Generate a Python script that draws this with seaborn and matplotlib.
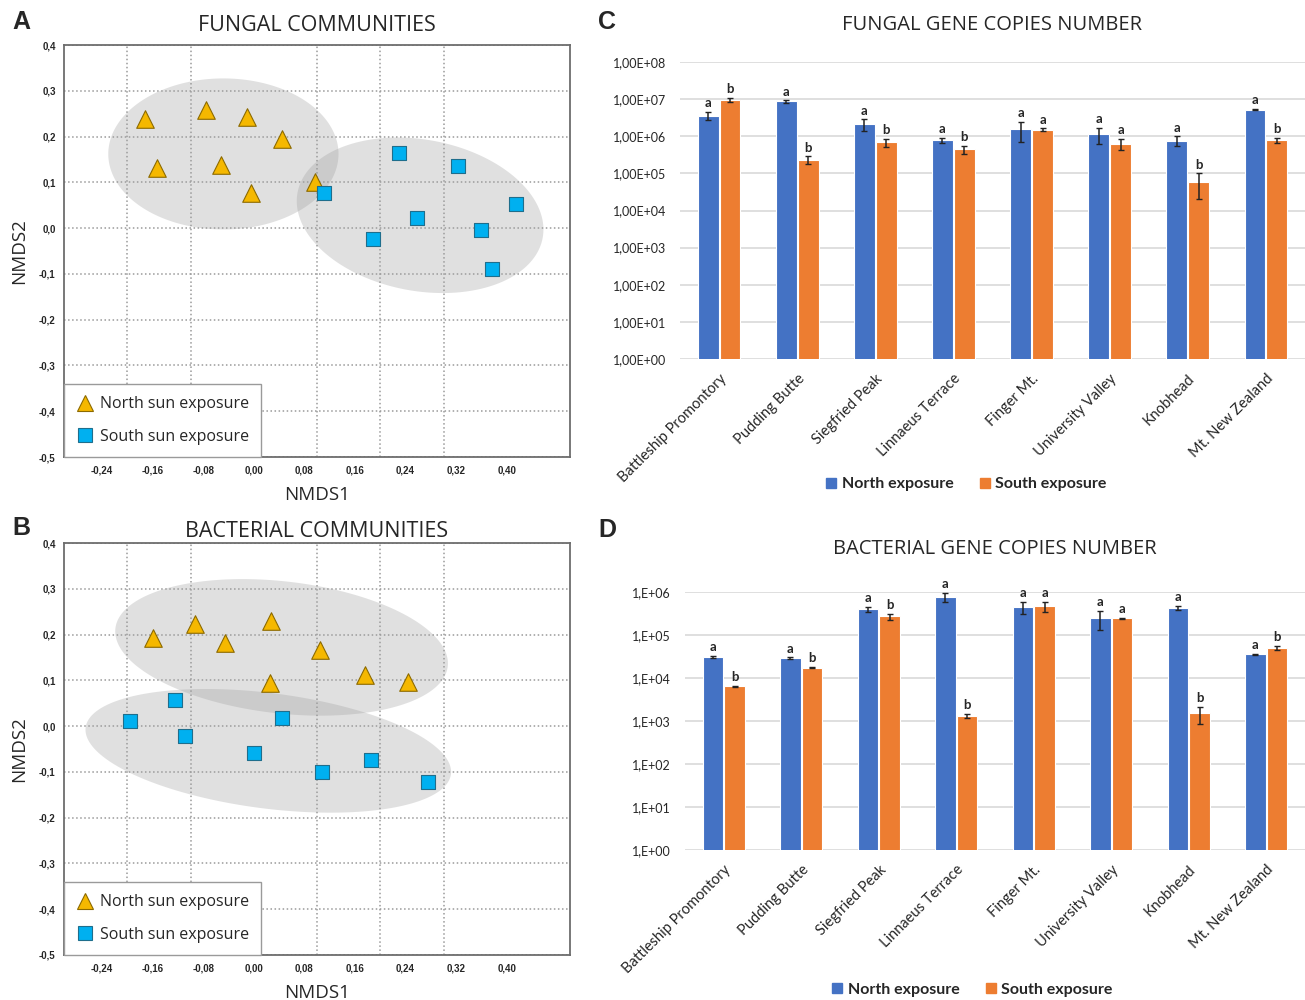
import numpy as np
import pandas as pd
import matplotlib
matplotlib.use('Agg')
import matplotlib.pyplot as plt
import seaborn as sns
from matplotlib.ticker import FuncFormatter, NullLocator
from matplotlib.lines import Line2D

# NMDS coordinates
fungal_north_x = [-0.172, -0.076, -0.010, 0.044, -0.153, -0.052, -0.004, 0.097]
fungal_north_y = [0.238, 0.257, 0.242, 0.195, 0.131, 0.138, 0.077, 0.100]
fungal_south_x = [0.229, 0.323, 0.111, 0.415, 0.258, 0.188, 0.359, 0.376]
fungal_south_y = [0.165, 0.136, 0.077, 0.053, 0.022, -0.024, -0.004, -0.089]

bact_north_x = [-0.160, -0.093, -0.045, 0.027, 0.105, 0.025, 0.176, 0.244]
bact_north_y = [0.192, 0.223, 0.181, 0.229, 0.167, 0.095, 0.112, 0.097]
bact_south_x = [-0.195, -0.125, -0.109, 0.001, 0.045, 0.108, 0.185, 0.275]
bact_south_y = [0.012, 0.057, -0.021, -0.059, 0.017, -0.101, -0.075, -0.123]

# confidence ellipses: centre x, centre y, conjugate half-axes (ux, uy), (vx, vy)
fungal_ell_north = (-0.048, 0.162, 0.182, 0.0, 0.0, 0.165)
fungal_ell_south = (0.263, 0.028, 0.195, -0.031, 0.0, 0.167)
bact_ell_north = (0.044, 0.172, 0.263, -0.035, 0.0, 0.145)
bact_ell_south = (0.023, -0.054, 0.289, -0.046, 0.0, 0.127)

# gene copies
sites = ['Battleship Promontory', 'Pudding Butte', 'Siegfried Peak', 'Linnaeus Terrace',
         'Finger Mt.', 'University Valley', 'Knobhead', 'Mt. New Zealand']

fungal_north = [3.6e6, 8.7e6, 2.1e6, 7.8e5, 1.55e6, 1.17e6, 7.6e5, 5.2e6]
fungal_north_err = [0.9e6, 0.6e6, 0.75e6, 1.4e5, 0.85e6, 0.55e6, 2.3e5, 2.5e5]
fungal_south = [9.7e6, 2.3e5, 6.8e5, 4.5e5, 1.5e6, 6.3e5, 6.0e4, 7.9e5]
fungal_south_err = [1.2e6, 0.55e5, 1.6e5, 1.1e5, 0.12e6, 2.1e5, 4.0e4, 1.35e5]
fungal_north_sig = ['a', 'a', 'a', 'a', 'a', 'a', 'a', 'a']
fungal_south_sig = ['b', 'b', 'b', 'b', 'a', 'a', 'b', 'b']

bact_north = [3.1e4, 2.9e4, 4.0e5, 7.6e5, 4.5e5, 2.5e5, 4.3e5, 3.55e4]
bact_north_err = [1.5e3, 1.0e3, 6e4, 1.8e5, 1.4e5, 1.2e5, 4.5e4, 1.0e3]
bact_south = [6.4e3, 1.75e4, 2.7e5, 1.32e3, 4.7e5, 2.45e5, 1.5e3, 5.1e4]
bact_south_err = [1.0e2, 8e2, 4.5e4, 1.5e2, 1.2e5, 5e3, 6.5e2, 5e3]
bact_north_sig = ['a', 'a', 'a', 'a', 'a', 'a', 'a', 'a']
bact_south_sig = ['b', 'b', 'b', 'b', 'a', 'a', 'b', 'b']

sns.set_style('white')
plt.rcParams['font.family'] = ['Open Sans', 'DejaVu Sans']

W, H = 1305, 1000
fig = plt.figure(figsize=(W / 100, H / 100), dpi=100)


def px_rect(left, top, right, bottom):
    return [left / W, 1 - bottom / H, (right - left) / W, (bottom - top) / H]


TRI_FACE, TRI_EDGE = '#F5B800', '#8C6A00'
SQ_FACE, SQ_EDGE = '#00B0F0', '#1F6E8C'


def nmds_panel(rect, title, title_pad, letter, letter_y, nx, ny, sx, sy, ells):
    ax = fig.add_axes(rect)
    t = np.linspace(0, 2 * np.pi, 300)
    for cx, cy, ux, uy, vx, vy in ells:
        ax.fill(cx + ux * np.cos(t) + vx * np.sin(t), cy + uy * np.cos(t) + vy * np.sin(t),
                color='#A0A0A0', alpha=0.32, lw=0, zorder=1)
    dn = pd.DataFrame({'NMDS1': nx, 'NMDS2': ny})
    ds = pd.DataFrame({'NMDS1': sx, 'NMDS2': sy})
    sns.scatterplot(data=dn, x='NMDS1', y='NMDS2', marker='^', s=160, color=TRI_FACE,
                    edgecolor=TRI_EDGE, linewidth=0.8, ax=ax, zorder=3)
    sns.scatterplot(data=ds, x='NMDS1', y='NMDS2', marker='s', s=115, color=SQ_FACE,
                    edgecolor=SQ_EDGE, linewidth=0.8, ax=ax, zorder=3)

    ax.set_xlim(-0.30, 0.50)
    ax.set_ylim(-0.5, 0.4)
    xt = np.arange(-0.24, 0.41, 0.08)
    ax.set_xticks(xt)
    ax.set_xticklabels([f'{v:.2f}'.replace('-0.00', '0.00').replace('.', ',') for v in xt])
    yt = np.arange(-0.5, 0.41, 0.1)
    ax.set_yticks(yt)
    ax.set_yticklabels([f'{v:.1f}'.replace('-0.0', '0.0').replace('.', ',') for v in yt])
    ax.set_xticks(np.arange(-0.2, 0.41, 0.1), minor=True)
    ax.grid(which='minor', axis='x', ls=':', color='#9a9a9a', lw=1.1)
    ax.grid(which='major', axis='y', ls=':', color='#9a9a9a', lw=1.1)
    ax.grid(which='major', axis='x', visible=False)
    ax.tick_params(which='minor', length=0)
    ax.tick_params(which='major', direction='out', length=3, width=0.8, color='#555555',
                   labelsize=7, pad=3)
    for lab in ax.get_xticklabels() + ax.get_yticklabels():
        lab.set_fontfamily('Liberation Sans')
        lab.set_fontweight('bold')
    for sp in ax.spines.values():
        sp.set_color('#6d6d6d')
        sp.set_linewidth(1.3)
    ax.set_xlabel('NMDS1', fontsize=13.5, labelpad=8)
    ax.set_ylabel('NMDS2', fontsize=13.5, labelpad=8)
    ax.set_title(title, fontsize=15.5, pad=title_pad)
    fig.text(12 / W, 1 - letter_y / H, letter, fontsize=18, weight='bold', va='center',
             family='Liberation Sans')

    handles = [Line2D([], [], ls='', marker='^', markersize=12, markerfacecolor=TRI_FACE,
                      markeredgecolor=TRI_EDGE, markeredgewidth=0.8),
               Line2D([], [], ls='', marker='s', markersize=10, markerfacecolor=SQ_FACE,
                      markeredgecolor=SQ_EDGE, markeredgewidth=0.8)]
    leg = ax.legend(handles, ['North sun exposure', 'South sun exposure'], loc='lower left',
                    bbox_to_anchor=(0, 0), borderaxespad=0, frameon=True, fancybox=False,
                    edgecolor='#9a9a9a', framealpha=1, fontsize=11.5, labelspacing=1.05,
                    handletextpad=0.4, borderpad=0.75, handlelength=1.1)
    leg.get_frame().set_linewidth(1.0)
    leg.set_zorder(5)
    return ax


nmds_panel(px_rect(64, 45, 570, 457), 'FUNGAL COMMUNITIES', 10, 'A', 22,
           fungal_north_x, fungal_north_y, fungal_south_x, fungal_south_y,
           [fungal_ell_north, fungal_ell_south])
nmds_panel(px_rect(64, 543, 570, 955), 'BACTERIAL COMMUNITIES', 4, 'B', 528,
           bact_north_x, bact_north_y, bact_south_x, bact_south_y,
           [bact_ell_north, bact_ell_south])

NORTH_C, SOUTH_C = '#4472C4', '#ED7D31'


def gene_panel(rect, title, letter, letter_y, north, north_err, south, south_err,
               north_sig, south_sig, top_exp, fmt, title_pad, legend_xy):
    ax = fig.add_axes(rect)
    df = pd.DataFrame({'site': sites * 2, 'copies': north + south,
                       'exposure': ['North exposure'] * len(sites) + ['South exposure'] * len(sites)})
    sns.barplot(data=df, x='site', y='copies', hue='exposure',
                palette={'North exposure': NORTH_C, 'South exposure': SOUTH_C},
                saturation=1, width=0.56, gap=0.05, edgecolor='white', linewidth=0.8,
                legend=False, log_scale=True, errorbar=None, ax=ax, zorder=2)
    for cont, vals, errs, sigs in zip(ax.containers, [north, south], [north_err, south_err],
                                      [north_sig, south_sig]):
        xs = [b.get_x() + b.get_width() / 2 for b in cont]
        ax.errorbar(xs, vals, yerr=errs, fmt='none', ecolor='#222222', elinewidth=1.1,
                    capsize=2, capthick=1.0, zorder=3)
        for x, v, e, s in zip(xs, vals, errs, sigs):
            ax.annotate(s, (x, v + e), xytext=(0, 2), textcoords='offset points',
                        ha='center', va='bottom', fontsize=9.5, weight='bold', family='Lato')
    ax.set_yscale('log')
    ax.set_ylim(1, 10 ** top_exp)
    ax.set_xlim(-0.5, len(sites) - 0.5)
    ax.set_yticks(10.0 ** np.arange(0, top_exp + 1))
    ax.yaxis.set_minor_locator(NullLocator())
    ax.yaxis.set_major_formatter(FuncFormatter(lambda v, p: fmt.format(int(round(np.log10(v))))))
    ax.grid(axis='y', color='#D9D9D9', lw=1.2)
    ax.grid(axis='x', visible=False)
    ax.set_axisbelow(True)
    for sp in ax.spines.values():
        sp.set_visible(False)
    ax.tick_params(axis='both', length=0)
    ax.tick_params(axis='y', labelsize=9, pad=10)
    ax.tick_params(axis='x', labelsize=10.5, pad=9)
    for lab in ax.get_yticklabels():
        lab.set_fontfamily('Lato')
    for lab in ax.get_xticklabels():
        lab.set_fontfamily('Lato')
        lab.set_rotation(45)
        lab.set_ha('right')
        lab.set_rotation_mode('anchor')
    ax.set_xlabel('')
    ax.set_ylabel('')
    ax.set_title(title, fontsize=14.5, pad=title_pad)
    fig.text(598 / W, 1 - letter_y / H, letter, fontsize=18, weight='bold', va='center',
             family='Liberation Sans')
    handles = [Line2D([], [], ls='', marker='s', markersize=7, markerfacecolor=NORTH_C,
                      markeredgecolor=NORTH_C),
               Line2D([], [], ls='', marker='s', markersize=7, markerfacecolor=SOUTH_C,
                      markeredgecolor=SOUTH_C)]
    ax.legend(handles, ['North exposure', 'South exposure'], loc='center', ncol=2,
              bbox_to_anchor=(legend_xy[0] / W, 1 - legend_xy[1] / H),
              bbox_transform=fig.transFigure, frameon=False, handletextpad=0.3,
              handlelength=0.7, columnspacing=1.6,
              prop={'family': 'Lato', 'weight': 'bold', 'size': 11.5})
    return ax


gene_panel(px_rect(680, 62, 1305, 359), 'FUNGAL GENE COPIES NUMBER', 'C', 22,
           fungal_north, fungal_north_err, fungal_south, fungal_south_err,
           fungal_north_sig, fungal_south_sig, 8, '1,00E+{:02d}', 23, (966, 484))
gene_panel(px_rect(685, 592, 1305, 850), 'BACTERIAL GENE COPIES NUMBER', 'D', 530,
           bact_north, bact_north_err, bact_south, bact_south_err,
           bact_north_sig, bact_south_sig, 6, '1,E+{:02d}', 27, (972, 990))

fig.savefig('out.png', dpi=100)
